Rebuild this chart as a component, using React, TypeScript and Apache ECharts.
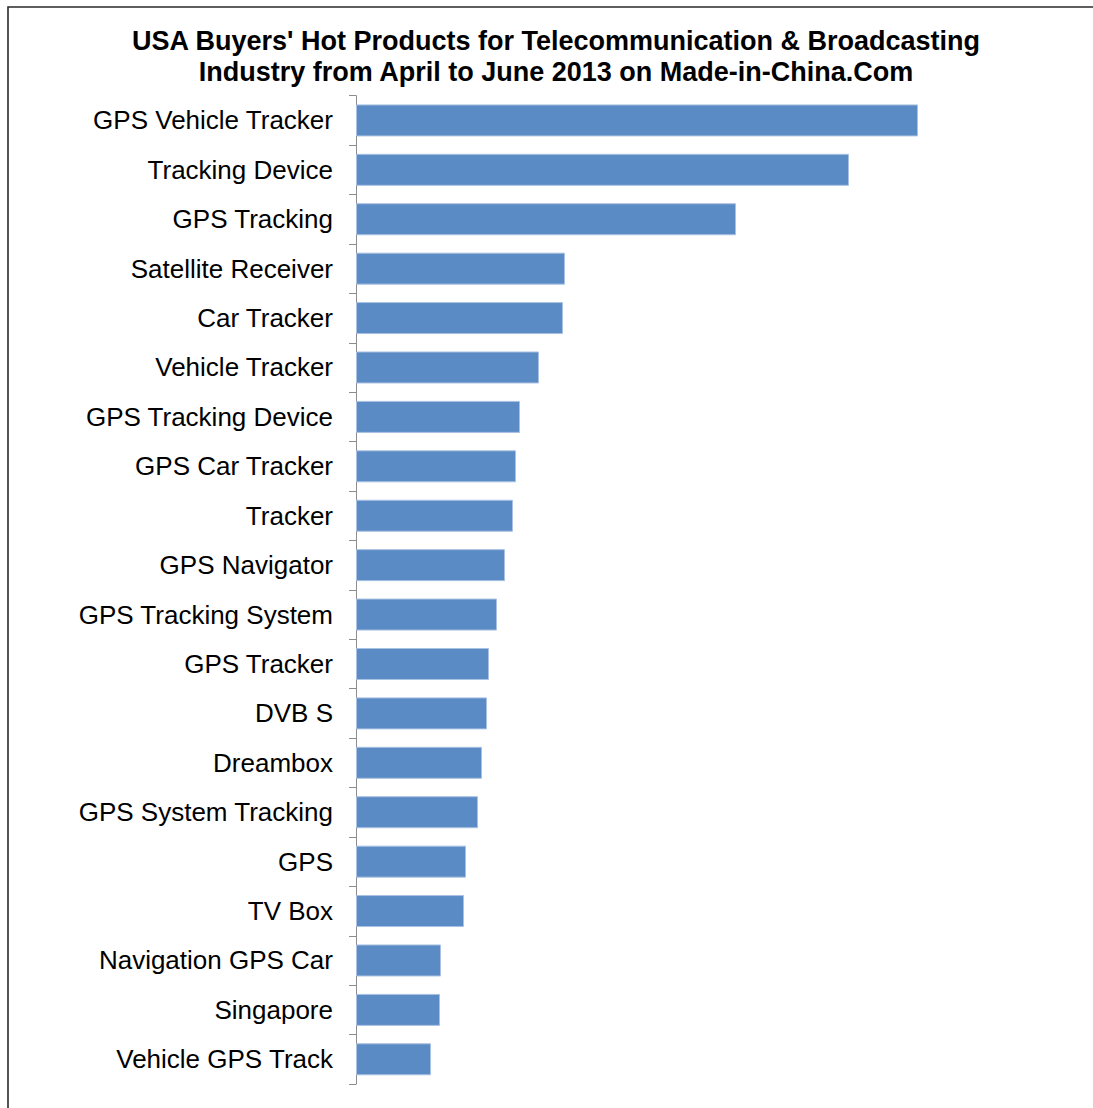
import React, { useEffect, useRef } from "react";
import * as echarts from "echarts";

const titleLines = [
  "USA Buyers' Hot Products for Telecommunication & Broadcasting",
  "Industry from April to June 2013 on Made-in-China.Com",
];

const categories = [
  "GPS Vehicle Tracker",
  "Tracking Device",
  "GPS Tracking",
  "Satellite Receiver",
  "Car Tracker",
  "Vehicle Tracker",
  "GPS Tracking Device",
  "GPS Car Tracker",
  "Tracker",
  "GPS Navigator",
  "GPS Tracking System",
  "GPS Tracker",
  "DVB S",
  "Dreambox",
  "GPS System Tracking",
  "GPS",
  "TV Box",
  "Navigation GPS Car",
  "Singapore",
  "Vehicle GPS Track",
];

// relative popularity
const values = [
  562, 493, 380, 209, 207, 183, 164, 160, 157, 149, 141, 133, 131, 126, 122,
  110, 108, 85, 84, 75,
];

const valueMax = 700;

export default function App() {
  const ref = useRef<HTMLDivElement>(null);

  useEffect(() => {
    if (!ref.current) return;
    const chart = echarts.init(ref.current, undefined, { renderer: "svg" });
    chart.setOption({
      animation: false,
      backgroundColor: "#ffffff",
      grid: { left: 356, top: 95.7, width: 700, height: 988.3, containLabel: false },
      xAxis: {
        type: "value",
        min: 0,
        max: valueMax,
        show: false,
      },
      yAxis: {
        type: "category",
        data: categories,
        inverse: true,
        axisLine: { show: true, lineStyle: { color: "#8c8c8c", width: 1 } },
        axisTick: { show: true, length: 7, lineStyle: { color: "#8c8c8c", width: 1 } },
        axisLabel: {
          margin: 23,
          fontFamily: "Liberation Sans, Arial, sans-serif",
          fontSize: 26,
          color: "#000000",
          padding: [2, 0, 0, 0],
        },
        splitLine: { show: false },
      },
      series: [
        {
          type: "bar",
          data: values,
          barWidth: 32,
          itemStyle: {
            color: "#5b8bc5",
            borderColor: "#a9c1e2",
            borderWidth: 1,
          },
        },
      ],
      graphic: [
        {
          type: "polyline",
          shape: { points: [[8, 1108], [8, 7], [1093, 7]] },
          style: { stroke: "#2a2a2a", lineWidth: 1.6, fill: null },
          silent: true,
        },
        {
          type: "text",
          x: 556,
          y: 25,
          style: {
            text: titleLines.join("\n"),
            textAlign: "center",
            textVerticalAlign: "top",
            fontFamily: "Liberation Sans, Arial, sans-serif",
            fontWeight: "bold",
            fontSize: 27,
            lineHeight: 31,
            fill: "#000000",
          },
        },
      ],
    });
    return () => chart.dispose();
  }, []);

  return (
    <div
      ref={ref}
      style={{ position: "absolute", left: 0, top: 0, width: 1093, height: 1108 }}
    />
  );
}
